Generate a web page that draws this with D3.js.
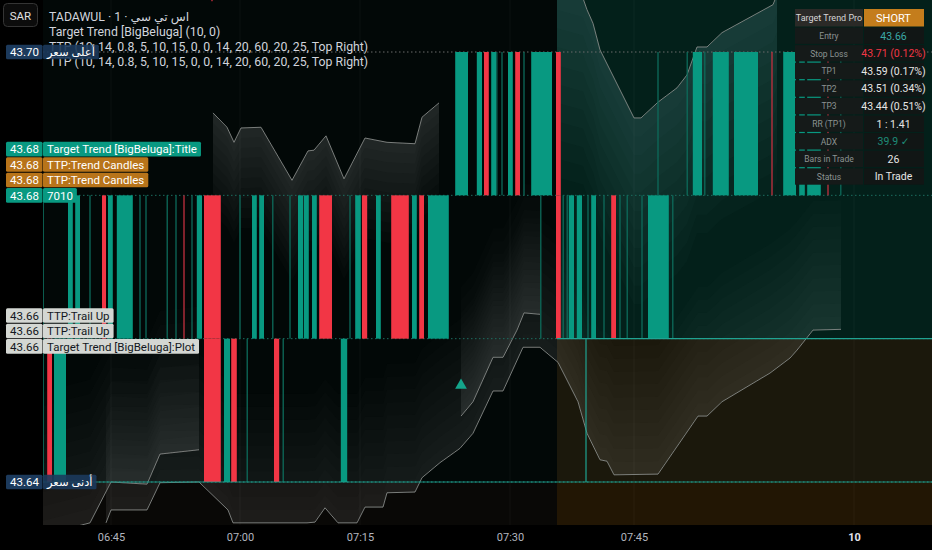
<!DOCTYPE html>
<html>
<head>
<meta charset="utf-8">
<script src="https://cdn.jsdelivr.net/npm/d3@7"></script>
<style>
html, body { margin: 0; padding: 0; background: #000; overflow: hidden; }
svg { display: block; font-family: Roboto, "DejaVu Sans", sans-serif; }
</style>
</head>
<body>
<svg id="chart" width="932" height="550"></svg>
<script>
// ---- data (x in minutes of the session, y in SAR) ----
var timeTicks = [8.375, 24.5, 39.5, 58.25, 73.75, 101.25];
var timeLabels = ["06:45", "07:00", "07:15", "07:30", "07:45", "10"];

var boxStart = 64.125;   // position box / background change
var boxLine = 67.75;     // vertical teal line of the box

// candles: [start, end, type]  1 up, -1 down, 2 thin up, -2 thin down
var candlesTop = [ // 43.68 - 43.70
  [51.4, 53.0, 1], [54.1, 54.75, 1], [55.0, 55.6, -1], [55.9, 56.5, 1], [56.6, 56.6, 2],
  [57.25, 57.25, 2], [58.0, 58.6, 1], [58.9, 59.5, -1], [60.0, 60.0, 2], [60.9, 63.5, 1],
  [64.0, 64.6, -1], [76.75, 76.75, 2], [80.4, 80.4, 2], [81.1, 82.25, 1], [82.6, 82.6, 2],
  [83.6, 85.6, 1], [86.25, 89.25, 1], [91.0, 91.0, -2], [92.4, 94.0, 1], [94.4, 95.1, 1],
  [95.4, 97.1, 1], [98.0, 98.0, -2], [99.6, 99.6, 2]
];
var candlesMid = [ // 43.66 - 43.68
  [-0.1, -0.1, 2], [3.0, 3.6, 1], [3.9, 4.5, 1], [5.75, 5.75, 2], [7.25, 7.75, -1], [8.0, 8.6, 1],
  [9.1, 11.1, 1], [12.0, 12.0, 2], [12.75, 12.75, 2], [15.4, 15.4, 2], [16.5, 16.5, 2],
  [17.5, 17.5, -2], [18.5, 18.5, 2], [19.1, 19.75, 1], [20.0, 22.1, -1], [24.5, 24.5, 2],
  [26.0, 26.6, 1], [26.9, 27.5, 1], [28.6, 28.6, 2], [30.75, 30.75, 2], [31.75, 32.4, 1],
  [32.5, 33.1, 1], [33.5, 34.1, 1], [34.4, 36.0, -1], [38.25, 38.25, 2], [38.9, 39.6, 1],
  [39.75, 40.4, -1], [41.5, 42.1, 1], [43.4, 45.6, -1], [46.0, 46.6, 1], [46.9, 47.5, -1],
  [48.0, 50.6, 1], [62.1, 62.1, 2], [64.0, 64.6, -1], [64.9, 64.9, 2], [65.4, 65.4, 2],
  [65.6, 66.25, 1], [66.6, 67.25, 1], [68.0, 68.0, 2], [68.4, 69.0, 1], [70.0, 70.0, 2],
  [70.9, 71.5, -1], [72.0, 72.0, 2], [72.9, 72.9, 2], [74.75, 74.75, 2], [75.5, 78.1, 1],
  [78.6, 78.6, 2]
];
var candlesLow = [ // 43.64 - 43.66
  [-0.1, -0.1, 2], [0.4, 1.0, -1], [1.25, 2.75, 1], [20.0, 22.1, -1], [22.5, 23.25, 1],
  [23.4, 24.1, -1], [25.4, 25.4, 2], [28.75, 29.4, -1], [29.9, 29.9, 2], [37.1, 37.9, 1]
];

// trailing band lines [time, price]
var trailA = [[-0.125, 43.6326], [5.75, 43.6343], [8.375, 43.6400], [12.875, 43.6397],
  [14.5, 43.6439], [19.375, 43.6445]];
var trailB = [[7.75, 43.6343], [8.375, 43.6361], [12.875, 43.6361], [14.5, 43.6399],
  [19.375, 43.6400], [23.0, 43.6361], [23.625, 43.6343], [32.875, 43.6343], [33.875, 43.6344],
  [35.125, 43.6364], [36.75, 43.6343], [39.125, 43.6343], [40.125, 43.6365], [42.375, 43.6365],
  [42.875, 43.6385], [46.375, 43.6386], [47.25, 43.6406], [49.5, 43.6427], [52.0, 43.6447],
  [53.625, 43.6468], [56.125, 43.6527], [57.375, 43.6527], [59.875, 43.6588], [62.0, 43.6588],
  [64.25, 43.6567], [66.75, 43.6512], [67.875, 43.6468], [69.5, 43.6431], [70.375, 43.6429],
  [71.25, 43.6410], [76.75, 43.6411], [81.75, 43.6492], [82.875, 43.6492], [84.75, 43.6512],
  [90.75, 43.6552], [93.25, 43.6573], [94.125, 43.6584], [96.125, 43.6612], [99.625, 43.6613]];
var trailC = [[52.125, 43.6492], [53.625, 43.6512], [56.125, 43.6574], [57.375, 43.6574],
  [59.125, 43.6612], [60.0, 43.6636], [62.0, 43.6634]];
var trailD = [[21.125, 43.6915], [22.875, 43.6895], [23.75, 43.6874], [24.625, 43.6894],
  [27.125, 43.6895], [31.0, 43.6821], [33.0, 43.6862], [33.75, 43.6863], [35.25, 43.6883],
  [37.5, 43.6823], [40.125, 43.6880], [42.875, 43.6874], [46.375, 43.6872], [47.25, 43.6909],
  [49.375, 43.6929]];
var trailE = [[64.125, 43.7085], [67.375, 43.7075], [67.875, 43.7059], [68.625, 43.7040],
  [69.5, 43.7003], [73.75, 43.6908], [74.625, 43.6908], [76.75, 43.6930], [79.125, 43.6950],
  [80.375, 43.6968], [81.625, 43.7007], [82.875, 43.7007], [84.75, 43.7027], [91.125, 43.7066],
  [91.625, 43.7080]];

var buySignals = [[52.125, 43.6535]];
var sellSignals = [[21.0, 43.7078]];

var labelPrices = [43.70, 43.68, 43.68, 43.68, 43.68, 43.66, 43.66, 43.66, 43.64];
var labelNames = ["أعلى سعر", "Target Trend [BigBeluga]:Title", "TTP:Trend Candles",
  "TTP:Trend Candles", "7010", "TTP:Trail Up", "TTP:Trail Up", "Target Trend [BigBeluga]:Plot", "أدنى سعر"];
var labelKinds = ["hl", "teal", "orange", "orange", "teal", "light", "light", "light", "hl"];

var legendLines = ["TADAWUL · 1 · \u2067اس تي سي\u2069", "Target Trend [BigBeluga] (10, 0)",
  "TTP (10, 14, 0.8, 5, 10, 15, 0, 0, 14, 20, 60, 20, 25, Top Right)",
  "TTP (10, 14, 0.8, 5, 10, 15, 0, 0, 14, 20, 60, 20, 25, Top Right)"];

var tableTitle = ["Target Trend Pro", "SHORT"];
var tableLabels = ["Entry", "Stop Loss", "TP1", "TP2", "TP3", "RR (TP1)", "ADX", "Bars in Trade", "Status"];
var tableValues = ["43.66", "43.71  (0.12%)", "43.59  (0.17%)", "43.51  (0.34%)", "43.44  (0.51%)",
  "1 : 1.41", "39.9 ✓", "26", "In Trade"];

// ---- chart ----
var svg = d3.select("#chart");
var W = 932, plotLeft = 43, plotBottom = 525;
var x = d3.scaleLinear().domain([0, 111]).range([44, 932]);
var y = d3.scaleLinear().domain([43.64, 43.70]).range([482, 52]);

svg.append("rect").attr("width", W).attr("height", 550).attr("fill", "#000");

svg.append("clipPath").attr("id", "plotClip").append("rect")
  .attr("x", plotLeft).attr("y", 0).attr("width", W - plotLeft).attr("height", plotBottom);

var plot = svg.append("g").attr("clip-path", "url(#plotClip)");

// backgrounds
plot.append("rect").attr("x", plotLeft).attr("y", 0)
  .attr("width", x(boxStart) - plotLeft).attr("height", plotBottom).attr("fill", "#020807");
plot.append("rect").attr("x", plotLeft).attr("y", y(43.64))
  .attr("width", x(boxStart) - plotLeft).attr("height", plotBottom - y(43.64)).attr("fill", "#090806");
plot.append("rect").attr("x", x(boxStart)).attr("y", 0)
  .attr("width", W - x(boxStart)).attr("height", y(43.66)).attr("fill", "#03201a");
plot.append("rect").attr("x", x(boxStart)).attr("y", y(43.66))
  .attr("width", W - x(boxStart)).attr("height", y(43.64) - y(43.66)).attr("fill", "#1b180c");
plot.append("rect").attr("x", x(boxStart)).attr("y", y(43.64))
  .attr("width", W - x(boxStart)).attr("height", plotBottom - y(43.64)).attr("fill", "#221604");

// grid
plot.selectAll(".grid").data(timeTicks).enter().append("line")
  .attr("x1", function(d){ return x(d); }).attr("x2", function(d){ return x(d); })
  .attr("y1", 0).attr("y2", plotBottom)
  .attr("stroke", "#ffffff").attr("stroke-opacity", 0.04);

// table (the candles of the upper band paint over it)
var tX = 795, tW1 = 68, tW2 = 61, tY = 9, rowH = 17.6;
var table = svg.append("g");
table.append("rect").attr("x", tX).attr("y", tY).attr("width", tW1).attr("height", 17.5).attr("fill", "#2b2a27");
table.append("rect").attr("x", tX + tW1 + 1).attr("y", tY).attr("width", tW2 - 1).attr("height", 17.5).attr("fill", "#c47d1c");
table.append("text").attr("x", tX + tW1 / 2).attr("y", tY + 12.2).attr("text-anchor", "middle")
  .attr("font-size", 9).attr("fill", "#d6d6d6").text(tableTitle[0]);
table.append("text").attr("x", tX + tW1 + tW2 / 2).attr("y", tY + 12.5).attr("text-anchor", "middle")
  .attr("font-size", 11).attr("fill", "#ffffff").text(tableTitle[1]);
var valueColors = ["#3aa9a7", "#f23645", "#e6e6e6", "#e6e6e6", "#e6e6e6", "#e6e6e6", "#1e8c78", "#e6e6e6", "#e6e6e6"];
var rows = table.selectAll(".row").data(tableLabels).enter().append("g")
  .attr("transform", function(d, i){ return "translate(0," + (tY + 18.5 + i * rowH) + ")"; });
rows.append("rect").attr("x", tX).attr("width", tW1).attr("height", 16.4).attr("fill", "#151a19");
rows.append("rect").attr("x", tX + tW1 + 1).attr("width", tW2 - 1).attr("height", 16.4).attr("fill", "#111615");
rows.append("text").attr("x", tX + tW1 / 2).attr("y", 11.5).attr("text-anchor", "middle")
  .attr("font-size", 8.5).attr("fill", "#8c9392").text(function(d){ return d; });
rows.append("text").attr("x", tX + tW1 + tW2 / 2).attr("y", 12).attr("text-anchor", "middle")
  .attr("font-size", 10.5).attr("fill", function(d, i){ return valueColors[i]; })
  .text(function(d, i){ return tableValues[i]; });

// trailing bands with fading fill
function trail(pts, dir, depth, color, alpha) {
  var g = plot.append("g");
  var n = 10;
  for (var k = n; k >= 1; k--) {
    var area = d3.area()
      .x(function(d){ return x(d[0]); })
      .y0(function(d){ return y(d[1]); })
      .y1(function(d){ return y(d[1] + dir * depth * k / n); });
    g.append("path").datum(pts).attr("d", area)
      .attr("fill", color).attr("fill-opacity", alpha / n);
  }
  g.append("path").datum(pts)
    .attr("d", d3.line().x(function(d){ return x(d[0]); }).y(function(d){ return y(d[1]); }))
    .attr("fill", "none").attr("stroke", "#8e928f").attr("stroke-width", 1).attr("stroke-opacity", 0.85);
}
trail(trailA, 1, 0.02, "#a4aaa8", 0.2);
trail(trailB, 1, 0.018, "#a4aaa8", 0.2);
trail(trailC, 1, 0.018, "#a4aaa8", 0.14);
trail(trailD, -1, 0.014, "#a8aaa6", 0.24);
trail(trailE, -1, 0.026, "#a8c4bd", 0.2);

// dotted price lines
[[43.70, "#6b6b6b"], [43.68, "#1c6d5f"], [43.66, "#1c6d5f"], [43.64, "#1c8f80"]].forEach(function(p){
  plot.append("line").attr("x1", plotLeft).attr("x2", W)
    .attr("y1", y(p[0])).attr("y2", y(p[0]))
    .attr("stroke", p[1]).attr("stroke-dasharray", "1.5,2.5");
});

// candles
var candleColor = { "1": "#089981", "-1": "#f23645", "2": "#0d6b5b", "-2": "#c3303f" };
function drawBand(data, lo, hi) {
  plot.append("g").selectAll("rect").data(data).enter().append("rect")
    .attr("x", function(d){ return d[0] === d[1] ? x(d[0]) - 0.65 : x(d[0]); })
    .attr("width", function(d){ return d[0] === d[1] ? 1.3 : x(d[1]) - x(d[0]); })
    .attr("y", y(hi)).attr("height", y(lo) - y(hi))
    .attr("fill", function(d){ return candleColor[d[2]]; });
}
drawBand(candlesTop, 43.68, 43.70);
drawBand(candlesMid, 43.66, 43.68);
drawBand(candlesLow, 43.64, 43.66);

// position box lines
plot.append("line").attr("x1", x(boxStart)).attr("x2", W).attr("y1", y(43.66)).attr("y2", y(43.66))
  .attr("stroke", "#1fa392").attr("stroke-width", 1.2);
plot.append("line").attr("x1", plotLeft).attr("x2", W).attr("y1", y(43.64)).attr("y2", y(43.64))
  .attr("stroke", "#1fa392").attr("stroke-width", 1.2).attr("stroke-opacity", 0.8);
plot.append("line").attr("x1", x(boxLine)).attr("x2", x(boxLine)).attr("y1", y(43.66)).attr("y2", y(43.64))
  .attr("stroke", "#1fa392").attr("stroke-width", 1.2);

// signals
plot.selectAll(".buy").data(buySignals).enter().append("path")
  .attr("d", d3.symbol().type(d3.symbolTriangle).size(60))
  .attr("transform", function(d){ return "translate(" + x(d[0]) + "," + y(d[1]) + ")"; })
  .attr("fill", "#14a58b");
plot.selectAll(".sell").data(sellSignals).enter().append("path")
  .attr("d", d3.symbol().type(d3.symbolTriangle).size(40))
  .attr("transform", function(d){ return "translate(" + x(d[0]) + "," + y(d[1]) + ") rotate(180)"; })
  .attr("fill", "#c8303e");

// legend
svg.append("rect").attr("x", 3.5).attr("y", 3.5).attr("width", 34).attr("height", 23).attr("rx", 4)
  .attr("fill", "#0c0c0c").attr("stroke", "#343434");
svg.append("text").attr("x", 20.5).attr("y", 19.5).attr("text-anchor", "middle")
  .attr("font-size", 11.5).attr("fill", "#e0e0e0").text("SAR");
svg.selectAll(".legend").data(legendLines).enter().append("text")
  .attr("x", 49).attr("y", function(d, i){ return 21 + i * 15; })
  .attr("font-size", 12.3).attr("fill", "#d1d4dc").text(function(d){ return d; });

// price labels on the scale
var slot = [0, -3, -2, -1, 0, -1.5, -0.5, 0.5, 0];
var kindStyle = {
  hl: { bg: "#1c3a5c", fg: "#ffffff", op: 0.9 },
  teal: { bg: "#089981", fg: "#ffffff", op: 1 },
  orange: { bg: "#b8741a", fg: "#ffffff", op: 1 },
  light: { bg: "#d4d7d3", fg: "#131722", op: 1 }
};
labelPrices.forEach(function(p, i){
  var cy = y(p) + slot[i] * 15.4;
  var st = kindStyle[labelKinds[i]];
  var g = svg.append("g");
  var name = g.append("text").attr("x", 47).attr("y", cy + 4.2)
    .attr("font-size", 11.5).attr("fill", st.fg).text(labelNames[i]);
  var w = name.node().getComputedTextLength() + 8;
  g.insert("rect", "text").attr("x", 43).attr("y", cy - 7.3).attr("width", w).attr("height", 14.6)
    .attr("rx", 1.5).attr("fill", st.bg).attr("fill-opacity", st.op);
  g.insert("rect", "text").attr("x", 6).attr("y", cy - 7.3).attr("width", 36.5).attr("height", 14.6)
    .attr("rx", 1.5).attr("fill", st.bg);
  g.append("text").attr("x", 24.5).attr("y", cy + 4.2).attr("text-anchor", "middle")
    .attr("font-size", 11.5).attr("fill", st.fg).text(p.toFixed(2));
});

// time axis
var axis = svg.append("g").attr("transform", "translate(0," + plotBottom + ")")
  .call(d3.axisBottom(x).tickValues(timeTicks).tickSize(0).tickPadding(8)
    .tickFormat(function(d, i){ return timeLabels[i]; }));
axis.select(".domain").remove();
axis.selectAll("text").attr("font-size", 11).attr("font-family", "Roboto, sans-serif")
  .attr("fill", function(d, i){ return i === timeLabels.length - 1 ? "#e0e3eb" : "#b2b5be"; })
  .attr("font-weight", function(d, i){ return i === timeLabels.length - 1 ? "bold" : "normal"; });
</script>
</body>
</html>
